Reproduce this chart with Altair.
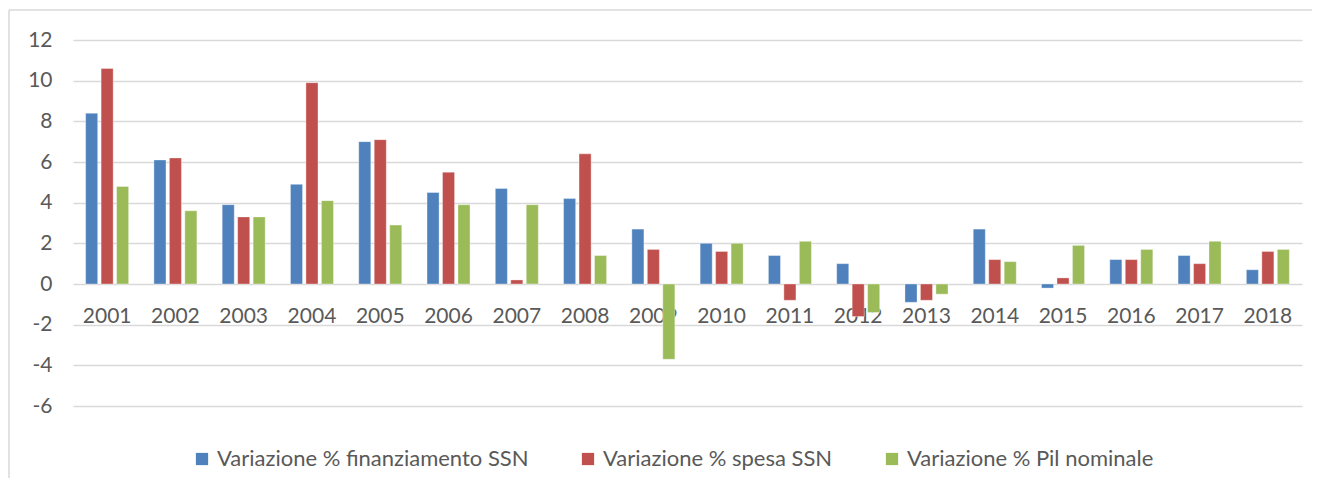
import altair as alt
import pandas as pd

years = [str(y) for y in range(2001, 2019)]
series = ["Variazione % finanziamento SSN", "Variazione % spesa SSN", "Variazione % Pil nominale"]
finanziamento = [8.4, 6.1, 3.9, 4.9, 7.0, 4.5, 4.7, 4.2, 2.7, 2.0, 1.4, 1.0, -0.9, 2.7, -0.2, 1.2, 1.4, 0.7]
spesa = [10.6, 6.2, 3.3, 9.9, 7.1, 5.5, 0.2, 6.4, 1.7, 1.6, -0.8, -1.6, -0.8, 1.2, 0.3, 1.2, 1.0, 1.6]
pil = [4.8, 3.6, 3.3, 4.1, 2.9, 3.9, 3.9, 1.4, -3.7, 2.0, 2.1, -1.4, -0.5, 1.1, 1.9, 1.7, 2.1, 1.7]
colors = ["#4f81bd", "#c0504d", "#9bbb59"]
y_ticks = [-6, -4, -2, 0, 2, 4, 6, 8, 10, 12]

rows = []
for s, vals in zip(series, [finanziamento, spesa, pil]):
    for y, v in zip(years, vals):
        rows.append({"Anno": y, "Serie": s, "Valore": v})
df = pd.DataFrame(rows)

FONT = "Lato"
GRAY = "#595959"

bars = alt.Chart(df).mark_bar(stroke="white", strokeWidth=0.6, strokeOpacity=0.6).encode(
    x=alt.X("Anno:N", sort=years, title=None,
            scale=alt.Scale(paddingInner=0.37, paddingOuter=0.185),
            axis=alt.Axis(orient="bottom", offset=-122, domain=False, ticks=False, grid=False,
                          labelAngle=0, labelFontSize=21, labelColor=GRAY, labelFont=FONT,
                          labelPadding=21)),
    xOffset=alt.XOffset("Serie:N", sort=series, scale=alt.Scale(paddingInner=0.22)),
    y=alt.Y("Valore:Q", title=None,
            scale=alt.Scale(domain=[-6, 12], nice=False, zero=False),
            axis=alt.Axis(values=y_ticks, domain=False, ticks=False, grid=True,
                          gridColor="#d9d9d9", gridWidth=1.5,
                          labelExpr="toString(datum.value)",
                          labelFontSize=21, labelColor=GRAY, labelFont=FONT,
                          labelPadding=21)),
    color=alt.Color("Serie:N", sort=series,
                    scale=alt.Scale(domain=series, range=colors),
                    legend=alt.Legend(title=None, orient="none", legendX=118, legendY=408,
                                      direction="horizontal", symbolType="square",
                                      symbolSize=150, symbolStrokeWidth=0, labelLimit=0,
                                      labelFontSize=22, labelColor=GRAY, labelFont=FONT,
                                      columnPadding=48, labelOffset=4)),
)

frame_data = alt.Data(values=[{}])
frame_top = alt.Chart(frame_data).mark_rule(stroke="#d9d9d9", strokeWidth=1.5).encode(
    x=alt.value(-64), x2=alt.value(1239), y=alt.value(-30)
)
frame_left = alt.Chart(frame_data).mark_rule(stroke="#d9d9d9", strokeWidth=1.5).encode(
    x=alt.value(-64), y=alt.value(-30), y2=alt.value(440)
)

chart = alt.layer(frame_top, frame_left, bars).properties(
    width=1229, height=366,
    autosize=alt.AutoSizeParams(type="none"),
    padding={"left": 65, "top": 32, "right": 10, "bottom": 72},
).configure_view(stroke=None)

chart.save("out.html", embed_options={"renderer": "svg", "actions": False})
